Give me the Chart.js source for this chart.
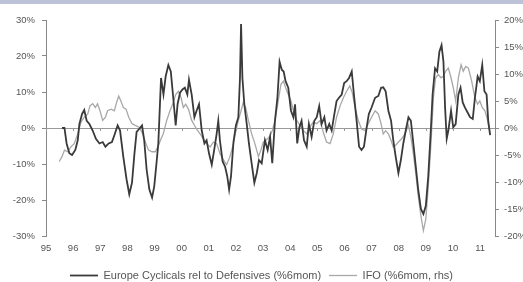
<!DOCTYPE html>
<html>
<head>
<meta charset="utf-8">
<script src="https://cdn.jsdelivr.net/npm/chart.js@4"></script>
<style>
  body { margin: 0; background: #fff; overflow: hidden; }
  #wrap { position: relative; width: 523px; height: 282px; overflow: hidden; }
  #band { position: absolute; left: 0; top: 0; width: 523px; height: 4px; background: #bcc3d8; }
</style>
</head>
<body>
<div id="wrap">
  <div id="band"></div>
  <canvas id="chart" width="523" height="291"></canvas>
</div>
<script>
// Europe cyclicals rel to defensives, % 6m on 6m (lhs) - time in years after 1995
const cycT = [0.59,0.68,0.76,0.86,0.96,1.08,1.17,1.23,1.33,1.41,1.50,1.60,1.72,1.84,1.97,2.09,2.19,2.31,2.43,2.52,2.64,2.73,2.85,2.97,3.07,3.17,3.26,3.34,3.44,3.54,3.62,3.71,3.81,3.91,3.99,4.07,
  4.14,4.24,4.33,4.41,4.51,4.60,4.69,4.78,4.85,4.94,5.03,5.12,5.21,5.27,5.37,5.47,5.55,5.64,5.74,5.84,5.92,6.01,6.11,6.20,6.29,6.35,6.41,6.51,6.60,6.68,6.75,6.82,6.91,7.00,7.09,7.15,7.19,7.24,7.31,7.40,7.48,7.58,7.68,7.77,7.85,7.95,
  8.07,8.17,8.26,8.34,8.44,8.53,8.61,8.69,8.76,8.83,8.93,9.03,9.12,9.18,9.26,9.34,9.42,9.51,9.61,9.69,9.79,9.89,9.98,10.07,10.16,10.26,10.34,10.44,10.53,10.61,10.71,10.80,10.90,10.99,11.08,11.17,11.27,11.35,11.45,11.54,11.63,11.72,11.82,11.90,12.00,
  12.13,12.25,12.35,12.43,12.52,12.62,12.72,12.80,12.89,12.99,13.08,13.17,13.26,13.36,13.45,13.54,13.63,13.72,13.82,13.91,14.00,14.09,14.19,14.25,14.34,14.42,14.50,14.58,14.65,14.71,14.77,14.83,14.93,15.01,15.10,15.20,15.28,15.36,15.44,15.54,15.63,15.73,15.81,15.91,15.99,16.08,16.16,16.24,16.30,16.37];
const cycV = [0,0,-4.3,-7.0,-7.5,-6.1,-3.4,1.1,3.9,5.0,2.0,1.1,-0.7,-3.0,-4.3,-3.9,-5.2,-4.3,-3.9,-2.0,0.7,-0.7,-8.0,-14.3,-18.4,-15.2,-7.1,-1.1,-0.2,0.7,-3.4,-11.6,-17.1,-19.3,-16.2,-10.0,
  -4.3,13.9,9.3,14.3,17.5,15.7,8.4,0.7,6.6,9.8,10.7,11.2,9.3,13.4,9.3,3.0,4.8,6.6,-0.7,-4.3,-3.4,-7.1,-10.2,-6.1,-1.6,2.0,-3.4,-9.3,-10.7,-13.4,-17.1,-13.4,-3.9,0.7,3.0,13.9,28.9,13.9,6.6,1.1,-4.3,-9.8,-15.2,-12.5,-8.9,-9.8,
  -3.4,-6.1,-2.5,-9.8,2.0,8.4,18.4,16.2,15.7,13.0,11.2,4.8,3.0,6.6,-4.3,0.2,2.0,-3.4,-5.2,1.1,-2.5,2.0,3.0,6.1,1.1,3.0,-0.7,1.1,-0.7,3.0,7.5,8.4,9.3,12.5,13.0,13.9,15.7,9.3,2.0,-5.2,-6.1,-5.2,0.2,3.9,5.7,
  8.4,8.9,11.2,11.3,10.2,4.8,2.0,-3.4,-8.0,-12.5,-8.9,-4.3,-0.7,3.0,2.0,-4.3,-10.7,-17.1,-22.5,-23.9,-21.6,-13.4,0.2,9.3,16.6,15.7,21.2,23.0,18.4,5.7,-3.0,-0.7,4.8,0.2,1.1,9.3,11.2,7.1,5.7,4.3,3.0,2.5,8.4,14.3,13.0,17.5,10.2,9.3,2.0,-2.0];

// IFO, % 6m on 6m (rhs)
const ifoT = [0.49,0.59,0.68,0.80,0.92,1.04,1.17,1.29,1.41,1.54,1.62,1.72,1.82,1.90,1.99,2.09,2.19,2.27,2.40,2.52,2.60,2.68,2.76,2.85,2.95,3.05,3.17,3.29,3.42,3.54,3.66,3.78,3.91,4.03,4.15,4.24,
  4.32,4.45,4.57,4.69,4.78,4.88,4.98,5.06,5.15,5.25,5.37,5.47,5.55,5.68,5.80,5.92,6.05,6.17,6.29,6.41,6.54,6.66,6.78,6.91,7.00,7.09,7.19,7.27,7.36,7.46,7.58,7.70,7.83,7.92,8.01,
  8.17,8.26,8.34,8.44,8.56,8.66,8.75,8.83,8.93,9.03,9.12,9.24,9.36,9.49,9.61,9.73,9.85,9.98,10.10,10.22,10.34,10.47,10.59,10.71,10.84,10.96,11.08,11.20,11.29,11.39,11.51,11.63,11.76,11.88,12.00,
  12.13,12.25,12.35,12.43,12.52,12.62,12.72,12.80,12.89,12.99,13.11,13.23,13.36,13.45,13.54,13.63,13.72,13.82,13.91,14.00,14.09,14.19,14.28,14.36,14.46,14.56,14.65,14.73,14.83,14.93,15.01,15.10,15.20,15.30,15.38,15.47,15.57,15.69,15.81,15.91,15.99,16.08,16.18,16.28,16.37];
const ifoV = [-6.2,-5.3,-4.1,-4.4,-3.5,-2.9,-1.1,1.1,2.0,2.6,4.1,4.5,3.8,4.5,3.2,1.4,2.0,3.2,3.5,3.2,4.7,5.9,5.0,3.8,3.5,2.0,0.8,0.5,0.2,-0.8,-2.6,-4.1,-4.4,-4.4,-3.2,-2.0,
  -1.1,1.4,3.2,4.7,6.2,6.8,5.6,3.8,4.4,3.5,1.4,0.5,-0.2,-1.1,-2.0,-2.9,-3.5,-2.6,-2.9,-4.7,-5.9,-6.8,-5.3,-2.9,-0.5,1.4,3.2,4.7,3.8,1.4,-1.1,-2.9,-5.3,-4.1,-2.6,
  -2.0,-1.4,-0.5,1.4,5.0,8.1,8.7,7.5,6.2,5.0,3.2,1.4,0.5,-0.5,-1.1,0.2,1.1,0.8,1.4,-0.8,-2.6,-2.9,-1.1,2.0,4.1,5.6,6.8,7.8,6.5,3.8,1.4,-0.2,-0.5,0.8,2.0,
  3.2,2.6,0.8,-1.1,-0.5,-1.1,-2.3,-3.5,-3.2,-2.6,-2.0,-1.1,0.5,-1.7,-4.7,-8.4,-12.6,-16.3,-19.0,-16.9,-10.8,-2.9,5.6,9.3,9.9,9.3,9.6,10.5,11.1,9.3,7.5,5.0,9.3,11.7,10.5,11.4,11.1,8.7,5.6,4.4,5.0,3.8,3.2,1.4,-1.1];

const startYear = 1995;
const yearTicks = [1995,1996,1997,1998,1999,2000,2001,2002,2003,2004,2005,2006,2007,2008,2009,2010,2011];
const toPoints = (t, v) => t.map((x, i) => ({ x: startYear + x, y: v[i] }));

const txt = '#555';
const tickFont = { family: 'Liberation Sans, Arial, sans-serif', size: 9.5 };
const legendFont = { family: 'Liberation Sans, Arial, sans-serif', size: 11 };

// little year ticks hanging under the zero line
const zeroTicks = {
  id: 'zeroTicks',
  afterDatasetsDraw(chart) {
    const { ctx, scales } = chart;
    const y0 = scales.y.getPixelForValue(0);
    ctx.save();
    ctx.strokeStyle = '#999';
    ctx.lineWidth = 1;
    yearTicks.forEach(yr => {
      const x = Math.round(scales.x.getPixelForValue(yr)) + 0.5;
      ctx.beginPath();
      ctx.moveTo(x, y0);
      ctx.lineTo(x, y0 + 3);
      ctx.stroke();
    });
    ctx.restore();
  }
};

new Chart(document.getElementById('chart'), {
  type: 'line',
  data: {
    datasets: [
      {
        label: 'Europe Cyclicals rel to Defensives (%6mom)',
        data: toPoints(cycT, cycV),
        borderColor: '#3a3a3a',
        backgroundColor: '#3a3a3a',
        borderWidth: 1.8,
        pointRadius: 0,
        yAxisID: 'y'
      },
      {
        label: 'IFO (%6mom, rhs)',
        data: toPoints(ifoT, ifoV),
        borderColor: '#a8a8a8',
        backgroundColor: '#a8a8a8',
        borderWidth: 1.3,
        pointRadius: 0,
        yAxisID: 'y2'
      }
    ]
  },
  plugins: [zeroTicks],
  options: {
    responsive: false,
    animation: false,
    layout: { padding: { top: 20, left: 0, right: 0, bottom: 0 } },
    plugins: {
      tooltip: { enabled: false },
      legend: {
        position: 'bottom',
        labels: {
          color: txt,
          font: legendFont,
          usePointStyle: true,
          pointStyle: 'line',
          pointStyleWidth: 28,
          padding: 8
        }
      }
    },
    scales: {
      x: {
        type: 'linear',
        min: 1995,
        max: 2011.55,
        grid: { display: false, drawTicks: false },
        border: { display: false },
        afterBuildTicks: s => { s.ticks = yearTicks.map(v => ({ value: v })); },
        afterFit: s => { s.height = 26; },
        ticks: {
          autoSkip: false,
          maxRotation: 0,
          padding: 7,
          color: txt,
          font: tickFont,
          callback: v => String(v).slice(2)
        }
      },
      y: {
        position: 'left',
        min: -30,
        max: 30,
        afterFit: s => { s.width = 46; },
        border: { display: true, color: '#888' },
        grid: {
          color: c => c.tick && c.tick.value === 0 ? '#999' : 'rgba(0,0,0,0)',
          tickColor: '#888',
          tickLength: 4
        },
        ticks: {
          stepSize: 10,
          padding: 7,
          color: txt,
          font: tickFont,
          callback: v => v + '%'
        }
      },
      y2: {
        position: 'right',
        min: -20,
        max: 20,
        afterFit: s => { s.width = 28; },
        border: { display: true, color: '#888' },
        grid: { drawOnChartArea: false, tickColor: '#888', tickLength: 4 },
        ticks: {
          stepSize: 5,
          padding: 5,
          color: txt,
          font: tickFont,
          callback: v => v + '%'
        }
      }
    }
  }
});
</script>
</body>
</html>
